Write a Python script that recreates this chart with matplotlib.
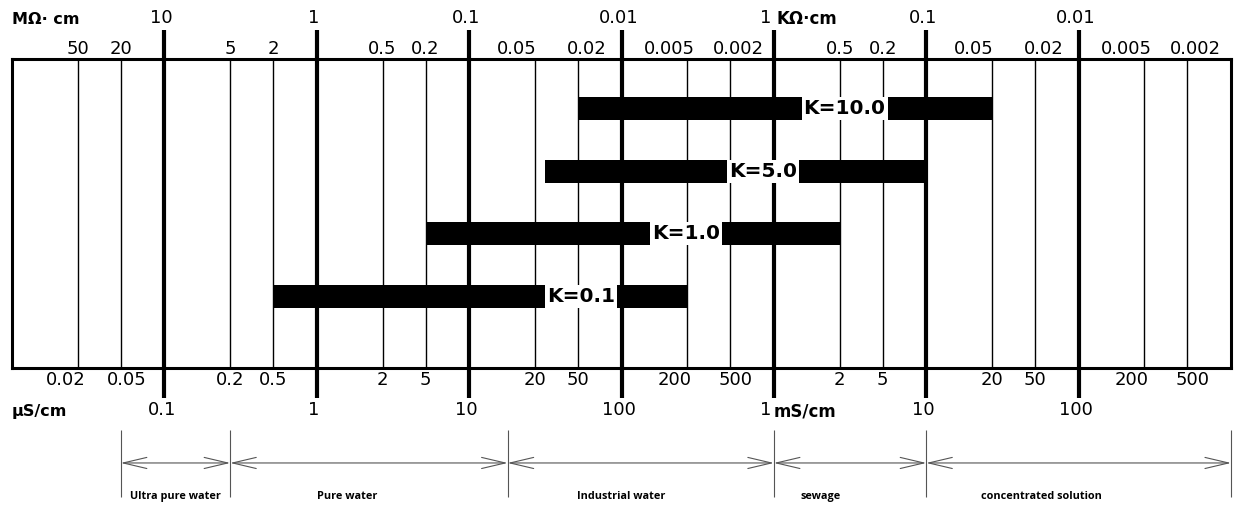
import numpy as np
import matplotlib.pyplot as plt
from matplotlib.patches import FancyArrowPatch
from matplotlib.ticker import NullLocator
from matplotlib.transforms import blended_transform_factory

# ---------------- data ----------------
# conductivity grid (uS/cm)
major_cond = [0.1, 1, 10, 100, 1000, 10000, 100000]
minor_cond = [0.02, 0.05, 0.2, 0.5, 2, 5, 20, 50, 200, 500,
              2000, 5000, 20000, 50000, 200000, 500000]

# resistivity labels (top) / conductivity labels (bottom)
top_major_lab = ['10', '1', '0.1', '0.01', '1', '0.1', '0.01']
top_minor_lab = ['50', '20', '5', '2', '0.5', '0.2', '0.05', '0.02',
                 '0.005', '0.002', '0.5', '0.2', '0.05', '0.02', '0.005', '0.002']
bot_major_lab = ['0.1', '1', '10', '100', '1', '10', '100']
bot_minor_lab = ['0.02', '0.05', '0.2', '0.5', '2', '5', '20', '50',
                 '200', '500', '2', '5', '20', '50', '200', '500']

# cell constant ranges (uS/cm)
k_lab = ['K=10.0', 'K=5.0', 'K=1.0', 'K=0.1']
k_low = [50, 25, 5, 0.5]
k_high = [20000, 10000, 2000, 200]

# application zones (uS/cm)
zone_edges = [0.05, 0.2, 15, 1000, 10000, 1000000]
zone_names = ['Ultra pure water', 'Pure water', 'Industrial water',
              'sewage', 'concentrated solution']

# ---------------- styles ----------------
klab_xfrac = [0.683, 0.616, 0.553, 0.467]   # label spots along the box
zone_dx = [0, -16, -14, -21, -27]            # points

# the nomogram divides each decade at 2 and 5 a bit off true log
KNOT_F = [0.0, np.log10(2), np.log10(5), 1.0]
KNOT_P = [0.0, 0.432, 0.714, 1.0]


def fwd(c):
    lg = np.log10(np.clip(np.asarray(c, dtype=float), 1e-12, None))
    d = np.floor(lg)
    return d + np.interp(lg - d, KNOT_F, KNOT_P)


def inv(p):
    p = np.asarray(p, dtype=float)
    d = np.floor(p)
    return 10 ** (d + np.interp(p - d, KNOT_P, KNOT_F))


plt.rcParams['font.family'] = ['DejaVu Sans']

fig = plt.figure(figsize=(12.4, 5.07), dpi=100)
L, W = 12 / 1240, 1219 / 1240
ax = fig.add_axes([L, 139 / 507, W, 309 / 507])
ax.set_xscale('function', functions=(fwd, inv))
ax.set_xlim(0.01, 1e6)
ax.set_ylim(4.14, -0.79)
ax.xaxis.set_major_locator(NullLocator())
ax.xaxis.set_minor_locator(NullLocator())
ax.set_yticks([])
for s in ax.spines.values():
    s.set_linewidth(2.2)

xt = ax.get_xaxis_transform()

# grid lines
ax.vlines(minor_cond, 0, 1, transform=xt, color='black', lw=1.0)
ax.vlines(major_cond, -0.097, 1.094, transform=xt, color='black', lw=3.0, clip_on=False)

# bars
rows = np.arange(len(k_lab))
ax.barh(rows, np.array(k_high) - np.array(k_low), left=k_low, height=0.367, color='black')
bt = blended_transform_factory(ax.transAxes, ax.transData)
for r, lab, xf in zip(rows, k_lab, klab_xfrac):
    ax.text(xf, r, lab, transform=bt, ha='center', va='center', fontsize=14.5,
            fontweight='bold', bbox=dict(facecolor='white', edgecolor='none',
                                         boxstyle='square,pad=0.1'))


def put(lab, c, y, dx=0, ha='center', **kw):
    ax.annotate(lab, xy=(c, y), xycoords=xt, xytext=(dx, 0), textcoords='offset points',
                ha=ha, va='center', annotation_clip=False, **kw)


# top / bottom scale labels
for i, (c, tl, bl) in enumerate(zip(minor_cond, top_minor_lab, bot_minor_lab)):
    first = i % 2 == 0
    if len(tl.replace('.', '')) >= 3:
        put(tl, c, 1.032, -13 if first else 6, fontsize=13)
    else:
        put(tl, c, 1.032, fontsize=13)
    if len(bl.replace('.', '')) >= 3:
        put(bl, c, -0.039, -9 if first else 4, fontsize=13)
    else:
        put(bl, c, -0.039, fontsize=13)

for c, tl, bl in zip(major_cond, top_major_lab, bot_major_lab):
    if c == 1000:
        put(tl, c, 1.133, -2, ha='right', fontsize=13)
        put('KΩ·cm', c, 1.128, 2, ha='left', fontsize=12, fontweight='bold')
        put(bl, c, -0.136, -2, ha='right', fontsize=13)
        put('mS/cm', c, -0.141, 0, ha='left', fontsize=12, fontweight='bold')
    else:
        put(tl, c, 1.133, -2, fontsize=13)
        put(bl, c, -0.136, -2, fontsize=13)

ax.text(0, 1.128, 'MΩ· cm', transform=ax.transAxes, ha='left', va='center',
        fontsize=11.5, fontweight='bold')
ax.text(0, -0.141, 'µS/cm', transform=ax.transAxes, ha='left', va='center',
        fontsize=11.5, fontweight='bold')

# application zones
az = fig.add_axes([L, 0, W, 82 / 507], sharex=ax)
az.set_ylim(0, 1)
az.axis('off')
az.vlines(zone_edges, 0.12, 0.94, color='#555555', lw=0.8, clip_on=False)
for a, b, name, dx in zip(zone_edges[:-1], zone_edges[1:], zone_names, zone_dx):
    arr = FancyArrowPatch((a, 0.537), (b, 0.537), arrowstyle='<->,head_length=1.7,head_width=0.4',
                          mutation_scale=10, shrinkA=0, shrinkB=0, color='#555555', lw=0.8,
                          clip_on=False)
    az.add_patch(arr)
    mid = inv((fwd(a) + fwd(b)) / 2)
    az.annotate(name, xy=(mid, 0.13), xytext=(dx, 0), textcoords='offset points',
                ha='center', va='center', fontsize=7.8, fontweight='bold',
                family=['Open Sans', 'DejaVu Sans'], annotation_clip=False)

fig.savefig('out.png', dpi=100)
